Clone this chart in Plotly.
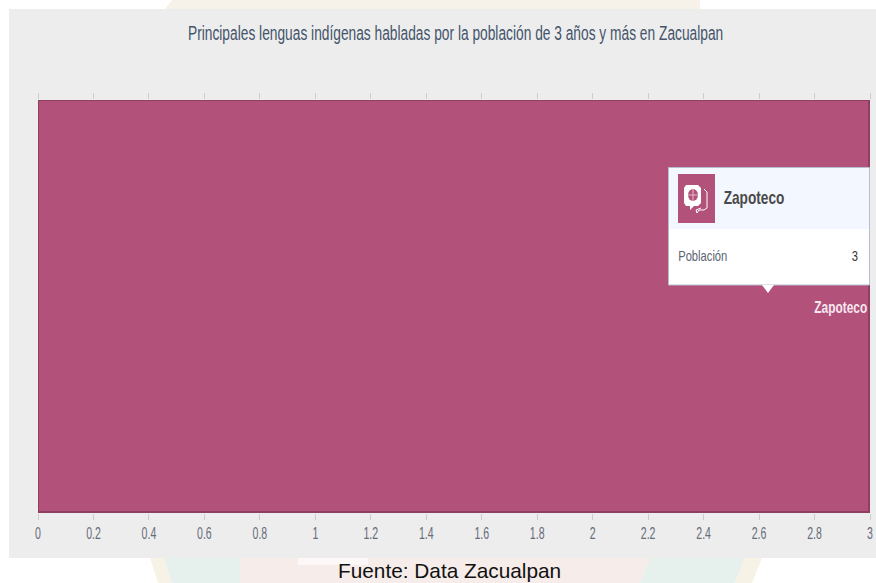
import plotly.graph_objects as go

categories = ["Zapoteco"]
poblacion = [3]
title_text = "Principales lenguas indígenas habladas por la población de 3 años y más en Zacualpan"
source_text = "Fuente: Data Zacualpan"
tooltip_label = "Población"
tick_values = [0, 0.2, 0.4, 0.6, 0.8, 1, 1.2, 1.4, 1.6, 1.8, 2, 2.2, 2.4, 2.6, 2.8, 3]
tick_labels = ["0", "0.2", "0.4", "0.6", "0.8", "1", "1.2", "1.4", "1.6", "1.8", "2", "2.2", "2.4", "2.6", "2.8", "3"]

W, H = 876, 583
L, R, T, B = 38, 870, 100, 513
SANS = "'Liberation Sans', sans-serif"


def px(x):
    return (x - L) / (R - L)


def py(y):
    return 1 - (y - T) / (B - T)


def rect(x0, y0, x1, y1, fill, line=None, layer="above"):
    return dict(type="rect", xref="paper", yref="paper", x0=px(x0), x1=px(x1), y0=py(y1), y1=py(y0),
                fillcolor=fill, line=dict(color=line or fill, width=1 if line else 0), layer=layer)


def path(points, fill, line=None, width=0, layer="above", closed=True):
    d = "M " + " L ".join(f"{px(a)},{py(b)}" for a, b in points) + (" Z" if closed else "")
    return dict(type="path", xref="paper", yref="paper", path=d, fillcolor=fill,
                line=dict(color=line or fill, width=width), layer=layer)


def note(x, y, text, size, color, family=SANS, bold=False):
    return dict(xref="paper", yref="paper", x=px(x), y=py(y), text=f"<b>{text}</b>" if bold else text,
                showarrow=False, xanchor="center", yanchor="middle",
                font=dict(size=size, color=color, family=family))


fig = go.Figure(go.Bar(
    y=categories, x=poblacion, orientation="h", width=1,
    marker=dict(color="#B2527B", line=dict(color="#8E3F62", width=3)),
    hoverinfo="skip", cliponaxis=True,
))

shapes = [
    # faint watermark behind the panel
    path([(172, 0), (700, 0), (700, 9), (165, 9)], "#F6F2E9", layer="below"),
    path([(150, 558), (164, 558), (172, 583), (158, 583)], "#F6F2E6", layer="below"),
    path([(164, 558), (240, 558), (240, 583), (172, 583)], "#E6F0EC", layer="below"),
    path([(240, 558), (650, 558), (640, 583), (240, 583)], "#F6ECE9", layer="below"),
    path([(650, 558), (745, 558), (735, 583), (640, 583)], "#E6F0EC", layer="below"),
    path([(745, 558), (762, 558), (752, 583), (735, 583)], "#F6F2E6", layer="below"),
    rect(298, 558, 368, 565, "#FBF8F7", layer="below"),
    rect(9, 9, 876, 558, "#EDEDED", layer="below"),
    # tooltip
    rect(668.5, 167.5, 869.5, 285, "#FFFFFF", "#B7BCD0"),
    rect(669, 168, 869, 229, "#F3F7FF"),
    path([(762, 285), (774, 285), (768, 293)], "#FFFFFF"),
    rect(678, 174, 715, 223, "#B2527B"),
    # speech-bubble icon
    path([(686, 185), (698, 185), (701, 188), (701, 203), (698, 206), (694, 206), (690, 210), (690, 206),
          (686, 206), (684, 203), (684, 188)], "#FFFFFF"),
    dict(type="circle", xref="paper", yref="paper", x0=px(688), x1=px(698), y0=py(201), y1=py(189),
         fillcolor="#B2527B", line=dict(width=0), layer="above"),
    path([(688, 195), (698, 195)], "rgba(0,0,0,0)", "#E3BBCD", 1, closed=False),
    path([(693, 189), (693, 201)], "rgba(0,0,0,0)", "#E3BBCD", 1, closed=False),
    path([(704, 189), (707, 192), (707, 208), (704, 210), (699, 210), (697, 213), (696, 210), (701, 208)],
         "rgba(0,0,0,0)", "#FFFFFF", 1, closed=False),
]

annotations = [
    note(455, 32, title_text, 21, "#44546A"),
    note(449.5, 570.5, source_text, 20.8, "#111111"),
    note(754, 198, categories[0], 18, "#4A4A4A", bold=True),
    note(702.5, 256, tooltip_label, 14, "#5A6472"),
    note(855, 256, str(poblacion[0]), 14, "#333333"),
    note(840.5, 307, categories[0], 17, "#F6E6EE", bold=True),
]

fig.update_layout(
    width=W, height=H, autosize=False,
    margin=dict(l=L, r=W - R, t=T, b=H - B, pad=0, autoexpand=False),
    paper_bgcolor="#FFFFFF", plot_bgcolor="#B2527B",
    showlegend=False, bargap=0, shapes=shapes, annotations=annotations,
    font=dict(family=SANS),
    xaxis=dict(range=[0, 3], tickmode="array", tickvals=tick_values, ticktext=tick_labels,
               ticks="outside", ticklen=6, tickcolor="#CCCCCC", tickwidth=1, mirror="ticks",
               showgrid=False, zeroline=False, showline=False,
               tickfont=dict(size=16, color="#666C7A", family=SANS)),
    yaxis=dict(showticklabels=False, ticks="", showgrid=False, zeroline=False, showline=False),
)

# The reference uses a condensed face; none is installed, so squeeze the real text horizontally.
condense = """
document.body.style.margin='0';
var factors = {21: 0.655, 18: 0.76, 17: 0.70, 16: 0.66, 14: 0.80};
document.querySelectorAll('svg text').forEach(function(t){
  var f = factors[parseFloat(window.getComputedStyle(t).fontSize)];
  if (!f) return;
  var x = parseFloat(t.getAttribute('x')) || 0;
  var old = t.getAttribute('transform') || '';
  t.setAttribute('transform', old + ' translate(' + x + ',0) scale(' + f + ',1) translate(' + (-x) + ',0)');
});
"""

fig.write_html("out.html", config=dict(displayModeBar=False, responsive=False),
               default_width="876px", default_height="583px", post_script=condense)
